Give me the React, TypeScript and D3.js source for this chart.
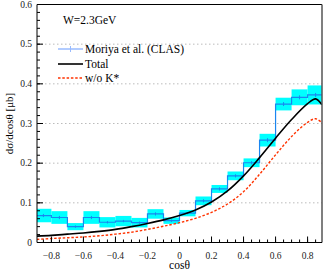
import React, { useEffect, useRef } from 'react';
import * as d3 from 'd3';

// CLAS data, bins of width 0.1 in cos(theta)
const binCenters = [-0.85, -0.75, -0.65, -0.55, -0.45, -0.35, -0.25, -0.15, -0.05, 0.05, 0.15, 0.25, 0.35, 0.45, 0.55, 0.65, 0.75, 0.85];
const clasValues = [0.068, 0.063, 0.040, 0.063, 0.051, 0.054, 0.050, 0.072, 0.055, 0.074, 0.105, 0.135, 0.168, 0.201, 0.258, 0.349, 0.366, 0.372];
const clasSysErr = [0.017, 0.016, 0.009, 0.016, 0.013, 0.013, 0.012, 0.012, 0.008, 0.008, 0.011, 0.010, 0.011, 0.011, 0.016, 0.016, 0.020, 0.024];
const clasStatErr = [0.004, 0.004, 0.003, 0.004, 0.003, 0.003, 0.003, 0.004, 0.003, 0.003, 0.004, 0.004, 0.004, 0.004, 0.005, 0.005, 0.005, 0.005];

// model curves
const curveX = [-0.89, -0.8, -0.7, -0.6, -0.5, -0.4, -0.3, -0.2, -0.1, 0, 0.1, 0.2, 0.3, 0.4, 0.5, 0.6, 0.7, 0.8, 0.85, 0.89];
const totalY = [0.016, 0.018, 0.021, 0.024, 0.028, 0.033, 0.040, 0.048, 0.057, 0.068, 0.082, 0.102, 0.130, 0.168, 0.214, 0.263, 0.310, 0.350, 0.362, 0.347];
const noKstarY = [0.008, 0.010, 0.012, 0.014, 0.017, 0.021, 0.026, 0.033, 0.041, 0.050, 0.061, 0.076, 0.097, 0.128, 0.172, 0.221, 0.267, 0.303, 0.312, 0.302];

const xTicks = [-0.8, -0.6, -0.4, -0.2, 0, 0.2, 0.4, 0.6, 0.8];
const yTicks = [0, 0.1, 0.2, 0.3, 0.4, 0.5, 0.6];
const gridY = [0.1, 0.2, 0.3, 0.4, 0.5];

const legendItems = ['Moriya et al. (CLAS)', 'Total', 'w/o K*'];

const SERIF = '"Liberation Serif", "Times New Roman", Times, Tinos, "DejaVu Serif", "Noto Serif", serif';

const App: React.FC = () => {
  const svgRef = useRef<SVGSVGElement | null>(null);

  useEffect(() => {
    if (!svgRef.current) return;
    const svg = d3.select(svgRef.current);
    svg.selectAll('*').remove();

    const left = 37, right = 322, top = 4.5, bottom = 242.5;
    const x = d3.scaleLinear().domain([-0.89, 0.89]).range([left, right]);
    const y = d3.scaleLinear().domain([0, 0.6]).range([bottom, top]);
    const half = 0.05;

    svg.append('rect').attr('width', 327).attr('height', 280).attr('fill', 'white');

    svg.append('clipPath').attr('id', 'plotclip')
      .append('rect').attr('x', left).attr('y', top).attr('width', right - left).attr('height', bottom - top);

    // grid
    svg.append('g').selectAll('line').data(gridY).join('line')
      .attr('x1', left).attr('x2', right)
      .attr('y1', d => y(d)).attr('y2', d => y(d))
      .attr('stroke', '#bbb').attr('stroke-width', 1).attr('stroke-dasharray', '1.5,2.5');

    const plot = svg.append('g').attr('clip-path', 'url(#plotclip)');

    // systematic bands
    plot.append('g').selectAll('rect').data(binCenters).join('rect')
      .attr('x', d => x(d - half))
      .attr('width', d => x(d + half) - x(d - half))
      .attr('y', (d, i) => y(clasValues[i] + clasSysErr[i]))
      .attr('height', (d, i) => y(clasValues[i] - clasSysErr[i]) - y(clasValues[i] + clasSysErr[i]))
      .attr('fill', '#00ffff');

    // histogram step line
    const steps: [number, number][] = [];
    binCenters.forEach((c, i) => {
      steps.push([c - half, clasValues[i]]);
      steps.push([c + half, clasValues[i]]);
    });
    plot.append('path')
      .datum(steps)
      .attr('fill', 'none')
      .attr('stroke', '#1a86f0')
      .attr('stroke-width', 1.2)
      .attr('d', d3.line<[number, number]>().x(d => x(d[0])).y(d => y(d[1])));

    // stat error ticks
    plot.append('g').selectAll('line').data(binCenters).join('line')
      .attr('x1', d => x(d)).attr('x2', d => x(d))
      .attr('y1', (d, i) => y(clasValues[i] - clasStatErr[i]))
      .attr('y2', (d, i) => y(clasValues[i] + clasStatErr[i]))
      .attr('stroke', '#1a86f0').attr('stroke-width', 1);

    const curve = d3.line<number>()
      .x((d, i) => x(curveX[i]))
      .y(d => y(d))
      .curve(d3.curveCatmullRom.alpha(0.5));

    plot.append('path').datum(noKstarY)
      .attr('fill', 'none').attr('stroke', '#ff3300').attr('stroke-width', 1.4)
      .attr('stroke-dasharray', '2.5,1.8').attr('d', curve);

    plot.append('path').datum(totalY)
      .attr('fill', 'none').attr('stroke', 'black').attr('stroke-width', 1.6)
      .attr('d', curve);

    // frame
    svg.append('line').attr('x1', left).attr('x2', right).attr('y1', top).attr('y2', top)
      .attr('stroke', 'black').attr('stroke-width', 1);
    svg.append('line').attr('x1', right).attr('x2', right).attr('y1', top).attr('y2', bottom)
      .attr('stroke', '#555').attr('stroke-width', 1.5);

    const serifText = (sel: d3.Selection<any, any, any, any>, size: number) =>
      sel.style('font-family', SERIF).style('font-size', `${size}px`);

    // axes with inward ticks
    const xAxis = svg.append('g').attr('transform', `translate(0,${bottom})`);
    xAxis.append('line').attr('x1', left).attr('x2', right).attr('stroke', 'black');
    const xMinor = d3.range(-0.85, 0.9, 0.05).filter(v => v > -0.89 && v < 0.89);
    xAxis.selectAll('line.minor').data(xMinor).join('line').attr('class', 'minor')
      .attr('x1', d => x(d)).attr('x2', d => x(d)).attr('y1', 0).attr('y2', -3)
      .attr('stroke', 'black');
    xAxis.selectAll('line.major').data(xTicks).join('line').attr('class', 'major')
      .attr('x1', d => x(d)).attr('x2', d => x(d)).attr('y1', 0).attr('y2', -6)
      .attr('stroke', 'black');
    serifText(xAxis.selectAll('text').data(xTicks).join('text'), 9.5)
      .attr('x', d => x(d)).attr('y', 16)
      .attr('text-anchor', 'middle')
      .attr('fill', '#222')
      .text(d => d3.format('')(d));

    const yAxis = svg.append('g').attr('transform', `translate(${left},0)`);
    yAxis.append('line').attr('y1', top).attr('y2', bottom).attr('stroke', 'black');
    const yMinor = d3.range(0, 0.601, 0.02);
    yAxis.selectAll('line.minor').data(yMinor).join('line').attr('class', 'minor')
      .attr('y1', d => y(d)).attr('y2', d => y(d)).attr('x1', 0).attr('x2', 3)
      .attr('stroke', 'black');
    yAxis.selectAll('line.major').data(yTicks).join('line').attr('class', 'major')
      .attr('y1', d => y(d)).attr('y2', d => y(d)).attr('x1', 0).attr('x2', 6)
      .attr('stroke', 'black');
    serifText(yAxis.selectAll('text').data(yTicks).join('text'), 9.5)
      .attr('x', -5).attr('y', d => y(d) + 3)
      .attr('text-anchor', 'end')
      .attr('fill', '#222')
      .text(d => d3.format('')(d));

    // axis titles
    serifText(svg.append('text'), 11.5)
      .attr('x', x(0)).attr('y', 269)
      .attr('text-anchor', 'middle')
      .text('cosθ');
    serifText(svg.append('text'), 11)
      .attr('transform', `translate(13,${(top + bottom) / 2}) rotate(-90)`)
      .attr('text-anchor', 'middle')
      .text('dσ/dcosθ [μb]');

    serifText(svg.append('text'), 11.5)
      .attr('x', 63).attr('y', 24)
      .text('W=2.3GeV');

    // legend
    const lg = svg.append('g');
    const rowY = [49, 64, 78];
    legendItems.forEach((label, i) => {
      const ly = rowY[i];
      if (i === 0) {
        lg.append('line').attr('x1', 58).attr('x2', 83).attr('y1', ly).attr('y2', ly)
          .attr('stroke', '#99bbff').attr('stroke-width', 1.5);
        lg.append('line').attr('x1', 70.5).attr('x2', 70.5).attr('y1', ly - 3).attr('y2', ly + 3)
          .attr('stroke', '#99bbff').attr('stroke-width', 1);
      } else if (i === 1) {
        lg.append('line').attr('x1', 58).attr('x2', 83).attr('y1', ly).attr('y2', ly)
          .attr('stroke', 'black').attr('stroke-width', 1.6);
      } else {
        lg.append('line').attr('x1', 58).attr('x2', 83).attr('y1', ly).attr('y2', ly)
          .attr('stroke', '#ff3300').attr('stroke-width', 1.4).attr('stroke-dasharray', '2.5,1.8');
      }
      serifText(lg.append('text'), 11.5)
        .attr('x', 85).attr('y', ly + 4)
        .text(label);
    });
  }, []);

  return (
    <svg ref={svgRef} width={327} height={280}
      style={{ position: 'absolute', left: 0, top: 0, display: 'block' }} />
  );
};

export default App;
